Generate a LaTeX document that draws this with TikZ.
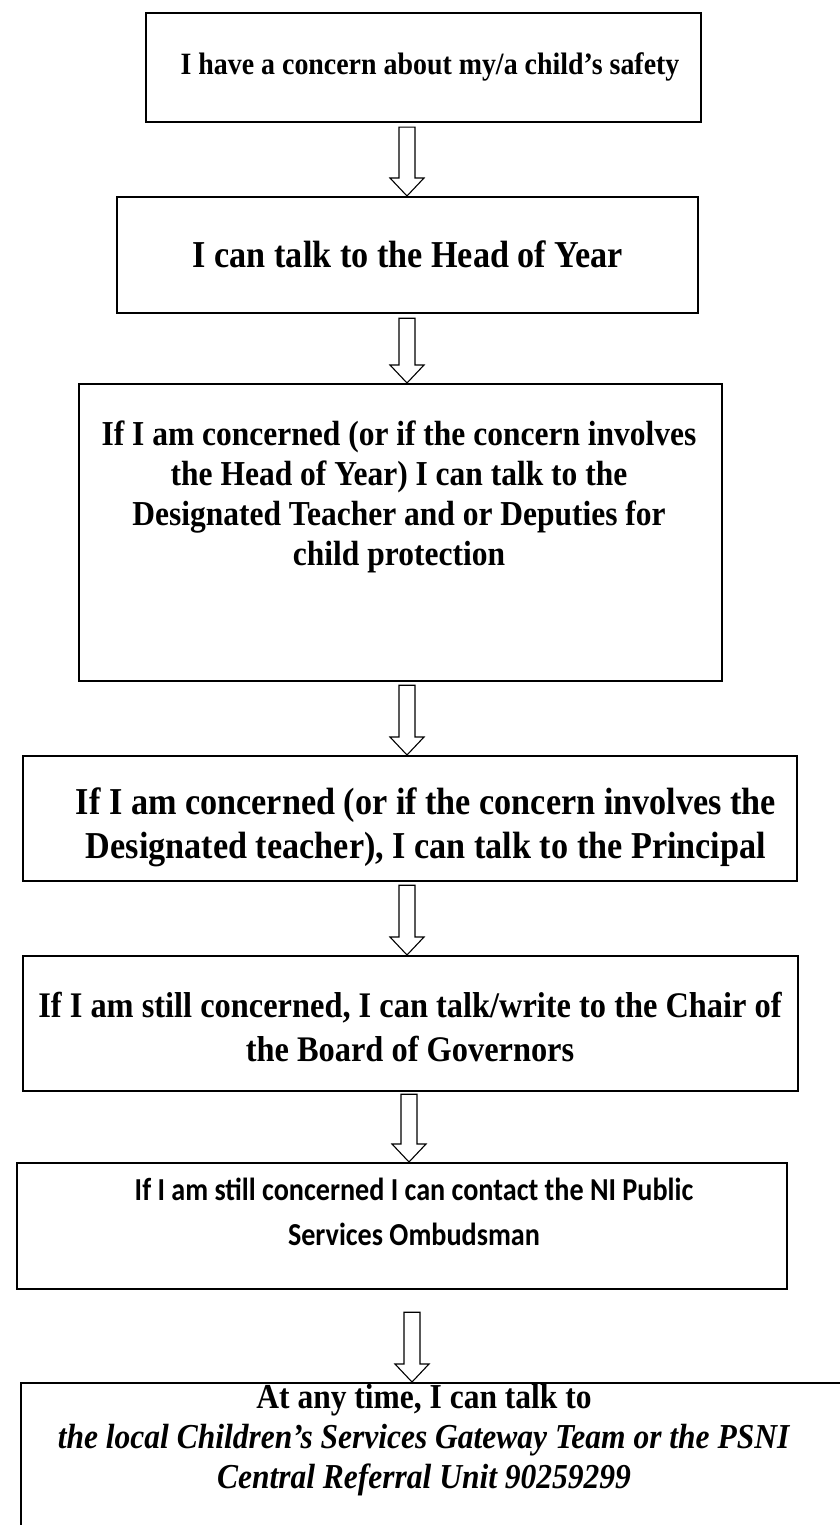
\documentclass[tikz,border=0pt]{standalone}
\usepackage{fontspec}
\setmainfont[FakeStretch=0.9]{Liberation Serif}
\newfontfamily\calfont[FakeStretch=0.88]{Carlito}
\usetikzlibrary{calc}
\tikzset{
  frame/.style={draw, line width=2.2pt, inner sep=0pt, anchor=north west},
  btext/.style={inner sep=0pt, align=center, font=\bfseries\fontsize{38}{44}\selectfont},
  blockarr/.style={draw, line width=1.1pt, fill=white, line join=miter},
}
\newcommand\blockarrow[4]{%
  \draw[blockarr] let \p1=(#1.south), \p2=(#2.north) in
    (#3pt-8pt,\y1-#4pt) -- (#3pt+8pt,\y1-#4pt) -- (#3pt+8pt,\y2+18pt) --
    (#3pt+17pt,\y2+18pt) -- (#3pt,\y2) -- (#3pt-17pt,\y2+18pt) --
    (#3pt-8pt,\y2+18pt) -- cycle;}
\begin{document}
\begin{tikzpicture}[x=1pt,y=-1pt]
\useasboundingbox (0,0) rectangle (840,1525);
\clip (0,0) rectangle (840,1525);
% frames
\node[frame, minimum width=555pt, minimum height=109pt] (b1) at (145,12) {};
\node[frame, minimum width=581pt, minimum height=116pt] (b2) at (116,196) {};
\node[frame, minimum width=643pt, minimum height=297pt] (b3) at (78,383) {};
\node[frame, minimum width=774pt, minimum height=125pt] (b4) at (22,755) {};
\node[frame, minimum width=775pt, minimum height=135pt] (b5) at (22,955) {};
\node[frame, minimum width=770pt, minimum height=126pt] (b6) at (16,1162) {};
\node[frame, minimum width=840pt, minimum height=200pt] (b7) at (20,1382) {};
% texts
\node[btext, font=\bfseries\fontsize{31}{36}\selectfont] (t1) at (430,67) {I have a concern about my/a child’s safety};
\node[btext] (t2) at (408,254) {I can talk to the Head of Year};
\node[btext, font=\bfseries\fontsize{35}{40}\selectfont] (t3) at (399,497) {If I am concerned (or if the concern involves\\the Head of Year) I can talk to the\\Designated Teacher and or Deputies for\\child protection};
\node[btext] (t4) at (426,827) {If I am concerned (or if the concern involves the\\Designated teacher), I can talk to the Principal};
\node[btext, font=\bfseries\fontsize{36}{44}\selectfont] (t5) at (410,1027) {If I am still concerned, I can talk/write to the Chair of\\the Board of Governors};
\node[btext, font=\calfont\bfseries\fontsize{32}{45}\selectfont] (t6) at (414,1212) {If I am still concerned I can contact the NI Public\\Services Ombudsman};
\node[btext, font=\bfseries\fontsize{35}{40}\selectfont] (t7) at (424,1440) {At any time, I can talk to\\\textit{the local Children’s Services Gateway Team or the PSNI}\\\textit{Central Referral Unit 90259299}};
% arrows
\blockarrow{b1}{b2}{407}{4}
\blockarrow{b2}{b3}{407}{4}
\blockarrow{b3}{b4}{407}{3}
\blockarrow{b4}{b5}{407}{3}
\blockarrow{b5}{b6}{409}{2}
\blockarrow{b6}{b7}{412}{22}
\end{tikzpicture}
\end{document}
